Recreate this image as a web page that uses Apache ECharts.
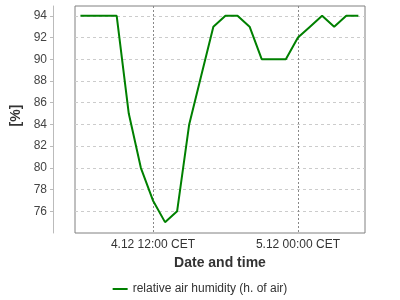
<!DOCTYPE html>
<html>
<head>
<meta charset="utf-8">
<style>html,body{margin:0;padding:0;background:#fff}#c{width:400px;height:300px}</style>
<script src="https://cdn.jsdelivr.net/npm/echarts@6/dist/echarts.min.js"></script>
</head>
<body>
<div id="c"></div>
<script>
// hours since 4.12 00:00 CET
var hours = [6,7,8,9,10,11,12,13,14,15,16,17,18,19,20,21,22,23,24,25,26,27,28,29];
var humidity = [94,94,94,94,85,80,77,75,76,84,88.5,93,94,94,93,90,90,90,92,93,94,93,94,94];
var xTicks = [12, 24];
var xTickLabels = {12: '4.12 12:00 CET', 24: '5.12 00:00 CET'};
var yTicks = [76,78,80,82,84,86,88,90,92,94];
var seriesName = 'relative air humidity (h. of air)';

var font = 'Liberation Sans, Arial, sans-serif';
var chart = echarts.init(document.getElementById('c'), null, {renderer: 'canvas'});
chart.setOption({
  animation: false,
  textStyle: {fontFamily: font},
  grid: {left: 75, right: 35, top: 6, bottom: 67, show: true, borderColor: '#808080', borderWidth: 1, backgroundColor: '#fff'},
  legend: {
    bottom: 0, left: 'center', itemWidth: 15, itemHeight: 10, itemGap: 10,
    textStyle: {fontFamily: font, fontSize: 12, color: '#333'},
    icon: 'rect',
    data: [{name: seriesName, icon: 'path://M0,4 L15,4 L15,6 L0,6 Z'}]
  },
  xAxis: {
    type: 'value', min: 5.55, max: 29.55,
    name: 'Date and time', nameLocation: 'middle', nameGap: 21,
    nameTextStyle: {fontFamily: font, fontSize: 14, fontWeight: 'bold', color: '#333'},
    axisLine: {show: false},
    axisTick: {show: false, customValues: xTicks},
    axisLabel: {customValues: xTicks, margin: 6, fontSize: 12, color: '#333', fontFamily: font,
      formatter: function (v) { return xTickLabels[v] || ''; }},
    splitLine: {show: true, lineStyle: {color: '#888', type: [2, 2], width: 1}}
  },
  yAxis: {
    type: 'value', min: 74, max: 94.9, offset: 22,
    name: '[%]', nameLocation: 'middle', nameGap: 21,
    nameTextStyle: {fontFamily: font, fontSize: 14, fontWeight: 'bold', color: '#333', padding: [0, 0, 0, 8]},
    axisLine: {show: true, lineStyle: {color: '#bbb'}},
    axisTick: {show: true, length: 3, customValues: yTicks, lineStyle: {color: '#bbb'}},
    axisLabel: {customValues: yTicks, margin: 6, fontSize: 12, color: '#444', fontFamily: font},
    splitLine: {show: true, lineStyle: {color: '#ccc', type: [3, 3], width: 1}}
  },
  series: [{
    name: seriesName, type: 'line',
    data: hours.map(function (h, i) { return [h, humidity[i]]; }),
    showSymbol: false, symbol: 'none',
    lineStyle: {color: '#008000', width: 2},
    itemStyle: {color: '#008000'}
  }]
});
</script>
</body>
</html>
